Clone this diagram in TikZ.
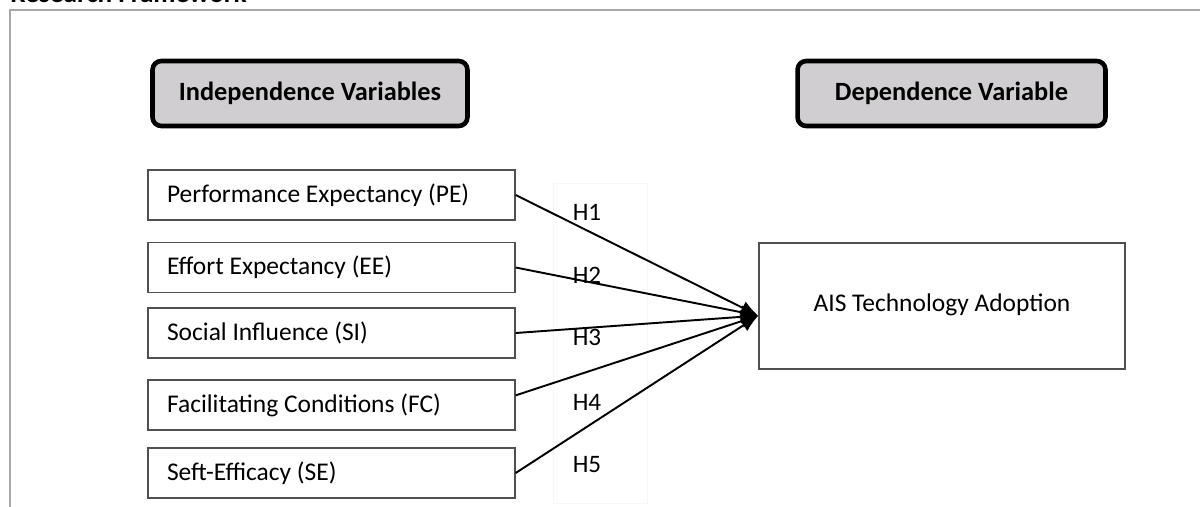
\documentclass[tikz,border=0pt]{standalone}
\usepackage{fontspec}
\setmainfont{Carlito}
\usetikzlibrary{arrows.meta}
\definecolor{headfill}{HTML}{D0CED0}
\definecolor{boxline}{HTML}{505050}
\definecolor{frameline}{HTML}{A8A8A8}
\newcommand{\varlabel}[1]{\makebox[6.58cm][l]{#1}}
\begin{document}
\begin{tikzpicture}[
          x=0.02cm, y=-0.02cm,
          header/.style={draw=black, line width=2.6pt, fill=headfill, rounded corners=5pt,
            minimum height=1.3cm, font=\fontsize{15}{17}\selectfont\bfseries},
          varbox/.style={draw=boxline, line width=0.8pt, minimum height=1cm,
            inner xsep=0.38cm, font=\fontsize{14.5}{16}\selectfont},
          hyp/.style={draw=black, line width=1.1pt, -{Latex[length=10pt,width=8pt]}},
          hlabel/.style={font=\fontsize{14.3}{16}\selectfont}
        ]
        % page and frame
        \useasboundingbox (0,0) rectangle (1200,507);
        \draw[frameline, line width=0.8pt] (10,507) -- (10,10) -- (1200,10);
        \node[anchor=base west, inner sep=0, font=\fontsize{15.5}{18}\selectfont\bfseries] (title) at (10,3) {Research Framework};
        \draw[black!3] (553,183) rectangle (647,503);

        % headers
        \node[header, minimum width=6.3cm] (iv) at (310,93.5) {Independence Variables};
        \node[header, minimum width=6.16cm] (dv) at (951.5,93.5) {Dependence Variable};

        % independent variables
        \node[varbox] (pe) at (331.5,195) {\varlabel{Performance Expectancy (PE)}};
        \node[varbox] (ee) at (331.5,267.5) {\varlabel{Effort Expectancy (EE)}};
        \node[varbox] (si) at (331.5,333) {\varlabel{Social Influence (SI)}};
        \node[varbox] (fc) at (331.5,405) {\varlabel{Facilitating Conditions (FC)}};
        \node[varbox] (se) at (331.5,473) {\varlabel{Seft-Efficacy (SE)}};

        % dependent variable
        \node[draw=boxline, line width=0.8pt, minimum width=7.32cm, minimum height=2.52cm,
          font=\fontsize{14.5}{16}\selectfont] (ais) at (942,306) {\raisebox{4pt}{AIS Technology Adoption}};

        % hypotheses
        \draw[hyp] (pe.east) -- (ais.183);
        \draw[hyp] (ee.east) -- (ais.183);
        \draw[hyp] (si.east) -- (ais.183);
        \draw[hyp] (fc.3) -- (ais.183);
        \draw[hyp] (se.east) -- (ais.183);

        \node[hlabel] (h1) at (587,212) {H1};
        \node[hlabel] (h2) at (587,275) {H2};
        \node[hlabel] (h3) at (587,337) {H3};
        \node[hlabel] (h4) at (587,402) {H4};
        \node[hlabel] (h5) at (587,465) {H5};
        \end{tikzpicture}
\end{document}
